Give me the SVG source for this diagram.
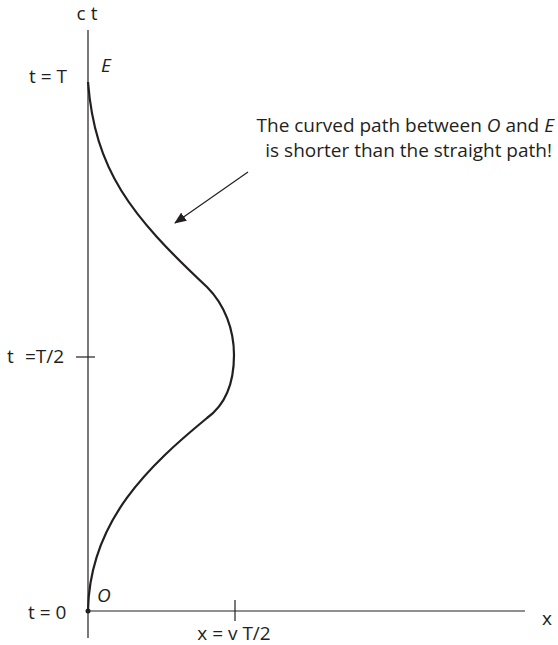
<svg xmlns="http://www.w3.org/2000/svg" width="558" height="645" viewBox="0 0 558 645">
<defs>
<style>
text{font-family:"Open Sans","Liberation Sans",sans-serif;font-size:19px;fill:#231f20}
.it{font-style:italic}
.ax{stroke:#231f20;stroke-width:1.2;fill:none}
.cv{stroke:#231f20;stroke-width:2.2;fill:none}
</style>
<marker id="ah" markerWidth="12" markerHeight="10" refX="11" refY="5" orient="auto" markerUnits="userSpaceOnUse">
<path d="M0,0 L12,5 L0,10 Z" fill="#231f20"/>
</marker>
</defs>
<g id="axes">
<line class="ax" x1="88" y1="30" x2="88" y2="638"/>
<line class="ax" x1="88" y1="611" x2="525" y2="611"/>
<line class="ax" x1="235" y1="600" x2="235" y2="621"/>
<line class="ax" x1="76" y1="357" x2="95" y2="357"/>
<circle cx="88" cy="611" r="2.5" fill="#231f20"/>
</g>
<g id="curve">
<path class="cv" d="M88,82 C95,170 130,215 207,287 C225,305 234,330 234,355 C234,385 225,405 207,418 C150,465 90,520 88,610"/>
</g>
<g id="connectors">
<line x1="248" y1="172" x2="175" y2="223" stroke="#231f20" stroke-width="1.2" marker-end="url(#ah)"/>
</g>
<g id="labels">
<text x="87" y="20" text-anchor="middle">c t</text>
<text x="29" y="83">t = T</text>
<text x="101" y="72" class="it">E</text>
<text x="7" y="363">t</text>
<text x="25" y="363">=T/2</text>
<text x="28" y="619">t = 0</text>
<text x="97" y="602" class="it">O</text>
<text x="234" y="640" text-anchor="middle">x = v T/2</text>
<text x="547" y="625" text-anchor="middle">x</text>
<text x="554" y="132" text-anchor="end">The curved path between <tspan class="it">O</tspan> and <tspan class="it">E</tspan></text>
<text x="552" y="157" text-anchor="end">is shorter than the straight path!</text>
</g>
</svg>
